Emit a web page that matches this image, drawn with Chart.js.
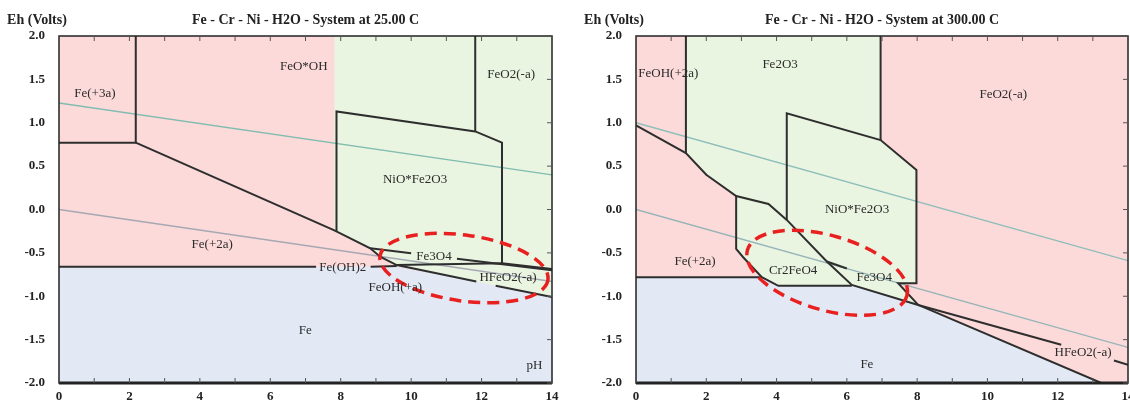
<!DOCTYPE html>
<html>
<head>
<meta charset="utf-8">
<script src="https://cdn.jsdelivr.net/npm/chart.js@4"></script>
<style>
  html, body { margin: 0; padding: 0; background: #fff; }
  #wrap { position: relative; width: 1130px; height: 401px; overflow: hidden; }
  .panel { position: absolute; top: 0; }
  #p25 { left: 0; }
  #p300 { left: 570px; }
</style>
</head>
<body>
<div id="wrap">
  <div class="panel" id="p25"><canvas id="c25" width="570" height="401"></canvas></div>
  <div class="panel" id="p300"><canvas id="c300" width="560" height="401"></canvas></div>
</div>
<script>
// axis ranges / ticks
const phRange = [0, 14];
const ehRange = [-2, 2];
const titles = ['Fe - Cr - Ni - H2O - System at 25.00 C', 'Fe - Cr - Ni - H2O - System at 300.00 C'];

// ---- 25 C panel (pH, Eh) ----
const area25 = [[0, 2], [14, 2], [14, -2], [0, -2]];
const green25 = [[7.82, 2], [14, 2], [14, -1.01], [12.4, -0.88], [11.85, -0.83], [9.59, -0.64], [9.12, -0.544], [8.84, -0.447], [7.82, -0.24]];
const blue25 = [[0, -0.66], [9.59, -0.66], [11.85, -0.83], [12.4, -0.88], [14, -1.01], [14, -2], [0, -2]];
const waterO2_25 = [[0, 1.228], [14, 0.40]];
const waterH2_25 = [[0, 0], [14, -0.83]];
const lines25 = [
  [[2.18, 2], [2.18, 0.77], [0, 0.77]],
  [[2.18, 0.77], [7.82, -0.24], [8.84, -0.447], [9.12, -0.544], [9.59, -0.64], [11.85, -0.83]],
  [[12.4, -0.88], [14, -1.01]],
  [[7.88, -0.25], [7.88, 1.13], [11.82, 0.90], [12.58, 0.77], [12.58, -0.62]],
  [[11.82, 2], [11.82, 0.90]],
  [[0, -0.66], [7.3, -0.66]],
  [[8.85, -0.66], [9.59, -0.65]],
  [[8.84, -0.447], [10.0, -0.505]],
  [[11.3, -0.568], [14, -0.70]],
  [[9.59, -0.64], [12.58, -0.62], [14, -0.685]]
];
const labels25 = [
  ['Fe(+3a)', 1.02, 1.34], ['FeO*OH', 6.95, 1.65], ['FeO2(-a)', 12.84, 1.56], ['NiO*Fe2O3', 10.11, 0.34],
  ['Fe(+2a)', 4.35, -0.40], ['Fe(OH)2', 8.06, -0.67], ['Fe3O4', 10.65, -0.54], ['HFeO2(-a)', 12.75, -0.78],
  ['FeOH(+a)', 9.55, -0.90], ['Fe', 6.99, -1.39], ['pH', 13.5, -1.80]
];
const ellipse25 = [11.5, -0.675, 2.41, 0.38, 8];

// ---- 300 C panel (pH, Eh) ----
const area300 = [[0, 2], [14, 2], [14, -2], [0, -2]];
const green300 = [[1.42, 2], [6.96, 2], [6.96, 0.80], [7.98, 0.455], [7.98, -0.85], [7.46, -0.85], [8.03, -1.10], [6.14, -0.87], [4.05, -0.88], [3.58, -0.78], [3.05, -0.55], [2.85, -0.455], [2.85, 0.156], [2.0, 0.40], [1.42, 0.65]];
const blue300 = [[0, -0.78], [3.58, -0.78], [4.05, -0.88], [6.14, -0.87], [8.03, -1.10], [13.24, -2], [0, -2]];
const waterO2_300 = [[0, 1.0], [14, -0.59]];
const waterH2_300 = [[0, 0], [14, -1.59]];
const lines300 = [
  [[1.42, 2], [1.42, 0.65]],
  [[0, 0.97], [1.42, 0.65], [2.0, 0.40], [2.85, 0.156], [3.77, 0.063], [4.29, -0.12], [5.43, -0.60], [6.14, -0.87], [8.03, -1.10], [13.24, -2]],
  [[6.96, 2], [6.96, 0.80]],
  [[4.29, -0.12], [4.29, 1.11], [6.96, 0.80], [7.98, 0.455], [7.98, -0.85], [7.46, -0.85], [8.03, -1.10]],
  [[2.85, 0.156], [2.85, -0.455], [3.05, -0.55], [3.58, -0.78], [4.05, -0.88], [6.14, -0.88]],
  [[0, -0.78], [3.58, -0.78]],
  [[5.43, -0.60], [6.0, -0.68]],
  [[8.03, -1.10], [12.1, -1.56]],
  [[13.6, -1.74], [14, -1.79]]
];
const labels300 = [
  ['FeOH(+2a)', 0.92, 1.57], ['Fe2O3', 4.1, 1.67], ['FeO2(-a)', 10.45, 1.32], ['NiO*Fe2O3', 6.29, 0.0],
  ['Fe(+2a)', 1.68, -0.6], ['Cr2FeO4', 4.47, -0.70], ['Fe3O4', 6.78, -0.78], ['Fe', 6.57, -1.79], ['HFeO2(-a)', 12.72, -1.65]
];
const ellipse300 = [5.44, -0.73, 2.36, 0.43, 16];

const PINK = 'rgb(253,218,218)';
const GREEN = 'rgb(234,245,225)';
const BLUE = 'rgb(226,232,244)';
const LINE = '#2e2e2e';
const SERIF = '"Liberation Serif", "DejaVu Serif", serif';

const toPts = (arr) => arr.map(([x, y]) => ({ x, y }));

// higher order is drawn first (underneath)
const polygon = (pts, color, order) => ({
  data: toPts(pts), showLine: true, fill: 'shape', backgroundColor: color,
  borderColor: 'transparent', borderWidth: 0, pointRadius: 0, order
});
const water = (pts, color) => ({
  data: toPts(pts), showLine: true, fill: false, borderColor: color,
  borderWidth: 1.3, pointRadius: 0, order: 5
});
const boundary = (pts) => ({
  data: toPts(pts), showLine: true, fill: false, borderColor: LINE,
  borderWidth: 2, pointRadius: 0, order: 1
});

const decorPlugin = {
  id: 'decor',
  afterDatasetsDraw(chart, args, opts) {
    const { ctx, chartArea: a, scales: { x, y } } = chart;
    ctx.save();
    // red dashed ellipse
    const [cx, cy, rx, ry, rot] = opts.ellipse;
    const px = x.getPixelForValue(cx), py = y.getPixelForValue(cy);
    const prx = Math.abs(x.getPixelForValue(cx + rx) - px);
    const pry = Math.abs(y.getPixelForValue(cy + ry) - py);
    ctx.beginPath();
    ctx.ellipse(px, py, prx, pry, rot * Math.PI / 180, 0, Math.PI * 2);
    ctx.strokeStyle = 'rgb(232,32,32)';
    ctx.lineWidth = 3.5;
    ctx.setLineDash([12, 7]);
    ctx.stroke();
    ctx.setLineDash([]);

    // labels
    ctx.fillStyle = '#2a2a2a';
    ctx.font = `13px ${SERIF}`;
    ctx.textAlign = 'center';
    ctx.textBaseline = 'middle';
    opts.labels.forEach(([t, lx, ly]) => {
      ctx.fillText(t, x.getPixelForValue(lx), y.getPixelForValue(ly));
    });

    // frame + inward ticks
    ctx.strokeStyle = '#222';
    ctx.lineWidth = 1.5;
    ctx.strokeRect(a.left, a.top, a.right - a.left, a.bottom - a.top);
    ctx.lineWidth = 3;
    ctx.beginPath();
    ctx.moveTo(a.left, a.bottom); ctx.lineTo(a.right, a.bottom);
    ctx.stroke();
    ctx.lineWidth = 1;
    ctx.strokeStyle = '#555';
    ctx.beginPath();
    x.ticks.forEach((t) => {
      const tx = x.getPixelForValue(t.value);
      ctx.moveTo(tx, a.top); ctx.lineTo(tx, a.top + 5);
      ctx.moveTo(tx, a.bottom); ctx.lineTo(tx, a.bottom - 5);
    });
    y.ticks.forEach((t) => {
      const ty = y.getPixelForValue(t.value);
      ctx.moveTo(a.right, ty); ctx.lineTo(a.right - 5, ty);
    });
    ctx.stroke();

    // titles
    ctx.fillStyle = '#222';
    ctx.font = `bold 14px ${SERIF}`;
    ctx.fillText(opts.title, (a.left + a.right) / 2, 20);
    ctx.fillText('Eh (Volts)', a.left - 22, 20);
    ctx.restore();
  }
};

const makeChart = (id, d) => new Chart(document.getElementById(id), {
  type: 'scatter',
  data: {
    datasets: [
      polygon(d.area, PINK, 12),
      polygon(d.green, GREEN, 11),
      polygon(d.blue, BLUE, 10),
      water(d.o2, d.o2Color),
      water(d.h2, d.h2Color),
      ...d.lines.map(boundary)
    ]
  },
  options: {
    responsive: false,
    animation: false,
    layout: { padding: d.padding },
    plugins: {
      legend: { display: false },
      tooltip: { enabled: false },
      decor: { labels: d.labels, ellipse: d.ellipse, title: d.title }
    },
    scales: {
      x: {
        min: phRange[0], max: phRange[1],
        grid: { display: false, drawTicks: false }, border: { display: false },
        afterFit: (s) => { s.height = 18; s.paddingLeft = 0; s.paddingRight = 0; },
        ticks: {
          stepSize: 1, padding: 6, color: '#222', maxRotation: 0, autoSkip: false,
          font: { family: SERIF, size: 13, weight: 'bold' },
          callback: (v) => (v % 2 === 0 ? String(v) : '')
        }
      },
      y: {
        min: ehRange[0], max: ehRange[1],
        grid: { display: false, drawTicks: false }, border: { display: false },
        afterFit: (s) => { s.width = 50; s.paddingTop = 0; s.paddingBottom = 0; },
        ticks: {
          stepSize: 0.5, padding: 14, color: '#222',
          font: { family: SERIF, size: 13, weight: 'bold' },
          callback: (v) => Number(v).toFixed(1)
        }
      }
    }
  },
  plugins: [decorPlugin]
});

makeChart('c25', {
  area: area25, green: green25, blue: blue25,
  o2: waterO2_25, h2: waterH2_25, o2Color: 'rgb(128,188,176)', h2Color: 'rgb(165,168,178)',
  lines: lines25, labels: labels25, ellipse: ellipse25, title: titles[0],
  padding: { top: 36, right: 18, left: 9, bottom: 0 }
});

makeChart('c300', {
  area: area300, green: green300, blue: blue300,
  o2: waterO2_300, h2: waterH2_300, o2Color: 'rgb(140,190,186)', h2Color: 'rgb(150,180,184)',
  lines: lines300, labels: labels300, ellipse: ellipse300, title: titles[1],
  padding: { top: 36, right: 2, left: 16, bottom: 0 }
});
</script>
</body>
</html>
